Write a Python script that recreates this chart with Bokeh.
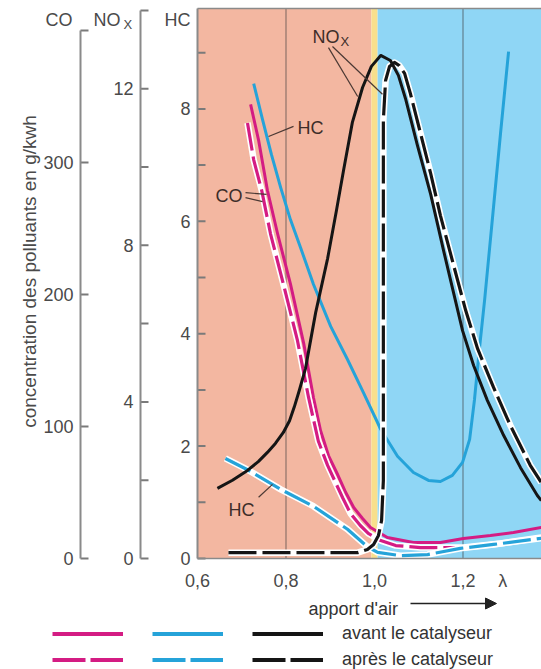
import math
from bokeh.plotting import figure
from bokeh.models import (Range1d, LinearAxis, FixedTicker, BoxAnnotation, Label,
                          Legend, LegendItem, Arrow, NormalHead, CustomJSTickFormatter)
from bokeh.embed import file_html
from bokeh.resources import INLINE

# ---------------- data ----------------
x_tick_values = [0.6, 0.8, 1.0, 1.2, 1.29]
x_tick_labels = ["0,6", "0,8", "1,0", "1,2", "λ"]

hc_ticks, hc_minor = [0, 2, 4, 6, 8], [1, 3, 5, 7, 9]
nox_ticks, nox_minor = [0, 4, 8, 12], [2, 6, 10, 14]
co_ticks, co_minor = [0, 100, 200, 300], [400]
nox_top, co_top = 14, 400

legend_labels = ["avant le catalyseur", "après le catalyseur"]

# zones: rich (salmon), lambda window (yellow), lean (blue)
zone_left = [0.6, 0.993, 1.007]
zone_right = [0.993, 1.007, None]
grid_lines = [0.8, 1.2]

# CO (CO scale)
co_avant_lambda = [0.720, 0.738, 0.758, 0.781, 0.810, 0.840, 0.862, 0.878, 0.896, 0.916, 0.935,
                   0.953, 0.973, 0.991, 1.029, 1.088, 1.149, 1.201, 1.262, 1.314, 1.377]
co_avant = [344, 317, 279, 246, 208, 163, 122, 97, 78, 64, 50,
            38.6, 30.3, 23.5, 15.9, 12.1, 12.1, 15.2, 17.4, 19.7, 23.5]
co_apres_lambda = [0.713, 0.727, 0.745, 0.765, 0.794, 0.826, 0.851, 0.873, 0.894, 0.910, 0.928,
                   0.946, 0.968, 0.986, 1.014, 1.048, 1.104, 1.201, 1.285, 1.377]
co_apres = [330, 302, 279, 246, 208, 165, 122, 89, 70.5, 59, 46,
            34, 25, 19, 13.6, 9.8, 8.3, 8.3, 11.4, 15.9]

# HC (HC scale)
hc_avant_lambda = [0.727, 0.747, 0.767, 0.788, 0.810, 0.833, 0.862, 0.901, 0.939, 0.975, 1.014,
                   1.052, 1.088, 1.122, 1.149, 1.176, 1.199, 1.215, 1.226, 1.237, 1.249, 1.267,
                   1.285, 1.303]
hc_avant = [8.45, 7.81, 7.19, 6.60, 6.03, 5.53, 4.88, 4.13, 3.54, 2.95, 2.30,
            1.82, 1.53, 1.39, 1.37, 1.48, 1.71, 2.12, 2.83, 3.72, 4.61, 6.09,
            7.58, 9.02]
hc_apres_lambda = [0.663, 0.713, 0.788, 0.862, 0.939, 0.984, 1.007, 1.059, 1.120, 1.194, 1.269, 1.377]
hc_apres = [1.78, 1.58, 1.23, 0.93, 0.52, 0.21, 0.11, 0.05, 0.07, 0.18, 0.25, 0.36]

# NOx (NOx scale)
nox_avant_lambda = [0.645, 0.679, 0.713, 0.738, 0.758, 0.776, 0.794, 0.808, 0.819, 0.830, 0.844,
                    0.867, 0.894, 0.914, 0.930, 0.950, 0.973, 0.993, 1.014, 1.036, 1.054,
                    1.070, 1.097, 1.127, 1.156, 1.179, 1.199, 1.224, 1.255, 1.292, 1.330,
                    1.368, 1.377]
nox_avant = [1.79, 2.00, 2.25, 2.48, 2.71, 2.94, 3.22, 3.52, 3.88, 4.29, 4.85,
             6.28, 7.66, 8.89, 9.91, 11.14, 12.03, 12.57, 12.85, 12.72, 12.34,
             11.75, 10.55, 9.30, 7.87, 6.77, 5.82, 4.93, 4.04, 3.14, 2.32,
             1.61, 1.48]
nox_apres_lambda = [0.670, 0.833, 0.962, 0.984, 0.998, 1.009, 1.016, 1.020, 1.020, 1.020, 1.025,
                    1.034, 1.045, 1.056, 1.068, 1.081, 1.104, 1.127, 1.149, 1.179, 1.206,
                    1.233, 1.269, 1.307, 1.352, 1.377]
nox_apres = [0.15, 0.15, 0.15, 0.23, 0.36, 0.59, 0.97, 1.99, 6.59, 11.19, 12.21,
             12.57, 12.67, 12.59, 12.39, 11.88, 10.86, 9.83, 8.76, 7.48, 6.34,
             5.36, 4.37, 3.40, 2.38, 1.94]

# ---------------- styling / layout ----------------
FONT = "Liberation Sans"
MAGENTA, BLUE, BLACK = "#d41c83", "#25a3d9", "#151515"
SALMON, YELLOW, SKY = "#f3b7a1", "#f8df8c", "#8fd6f5"
AXIS_GREY, TICK_GREY, TICK_TXT, NOTE_TXT = "#8a8a8a", "#7a7a7a", "#4a4a4a", "#3d2d29"
DASH = "28 6"

FIG_W, FIG_H = 541, 669
PAGE_X0, PAGE_Y0 = 0, 0              # page position of the canvas
LAM0_PX, ZERO_PY = 197, 558          # page pixel of lambda = 0.6 and of the value 0
PX_PER_LAMBDA = 442.5
PX_PER_HC, PX_PER_NOX, PX_PER_CO = 56.2, 39.15, 1.32
NOX_AXIS_PX, CO_AXIS_PX = 140, 80    # page x of the two extra axes
TOP_PY = 8                           # top of the coloured area
TICK_LEN = 8                         # px


def lam_at(px):
    return 0.6 + (px - LAM0_PX) / PX_PER_LAMBDA


def rng(per_px):
    return Range1d((ZERO_PY - (PAGE_Y0 + FIG_H)) / per_px, (ZERO_PY - PAGE_Y0) / per_px)


def sx(px):
    return px - PAGE_X0


def sy(py):
    return PAGE_Y0 + FIG_H - py


X_START, X_END = lam_at(PAGE_X0), lam_at(PAGE_X0 + FIG_W)
hc_range = rng(PX_PER_HC)
HC_TOP = (ZERO_PY - TOP_PY) / PX_PER_HC

p = figure(width=FIG_W, height=FIG_H, x_range=Range1d(X_START, X_END), y_range=hc_range,
           x_axis_type=None, y_axis_type=None,
           output_backend="svg", toolbar_location=None, title=None, min_border=0)
p.extra_y_ranges = {"nox": rng(PX_PER_NOX), "co": rng(PX_PER_CO)}
p.outline_line_color = None
p.background_fill_color = "white"
p.border_fill_color = "white"

# background zones (from value 0 up to the top of the chart)
for l, r, c in zip(zone_left, zone_right, [SALMON, YELLOW, SKY]):
    p.add_layout(BoxAnnotation(left=l, right=r, bottom=0, top=HC_TOP, fill_color=c, fill_alpha=1.0,
                               line_color=None, level="underlay"))
p.segment(x0=grid_lines, y0=[0] * len(grid_lines), x1=grid_lines, y1=[HC_TOP] * len(grid_lines),
          line_color="#3c3c3c", line_alpha=0.55, line_width=1.2)
# thin top edge of the coloured area
p.segment(x0=[0.6], y0=[HC_TOP], x1=[X_END], y1=[HC_TOP], line_color=AXIS_GREY, line_width=1.5)


def make_y_axis(ticks, minor, bounds, loc, range_name="default"):
    # labelled axis line (labels on the left)
    ax = LinearAxis(y_range_name=range_name, fixed_location=loc, bounds=bounds,
                    ticker=FixedTicker(ticks=ticks, minor_ticks=minor))
    ax.major_tick_in = 0
    ax.major_tick_out = 0
    ax.minor_tick_in = 0
    ax.minor_tick_out = 0
    ax.axis_line_color = AXIS_GREY
    ax.axis_line_width = 2
    ax.major_label_text_font = FONT
    ax.major_label_text_font_size = "18px"
    ax.major_label_text_color = TICK_TXT
    ax.major_label_standoff = 7
    p.add_layout(ax, "left")
    # tick marks on the chart side of the axis line, pointing right
    all_ticks = list(ticks) + list(minor)
    n = len(all_ticks)
    p.segment(x0=[loc] * n, y0=all_ticks, x1=[loc + TICK_LEN / PX_PER_LAMBDA] * n, y1=all_ticks,
              y_range_name=range_name, line_color=TICK_GREY, line_width=2)


make_y_axis(hc_ticks, hc_minor, (0, HC_TOP), 0.6)
make_y_axis(nox_ticks, nox_minor, (0, nox_top), lam_at(NOX_AXIS_PX), "nox")
make_y_axis(co_ticks, co_minor, (0, co_top), lam_at(CO_AXIS_PX), "co")

# x axis at value 0
xa = LinearAxis(fixed_location=0, bounds=(0.6, X_END), ticker=FixedTicker(ticks=x_tick_values))
xa.formatter = CustomJSTickFormatter(args=dict(vals=x_tick_values, labs=x_tick_labels), code="""
    for (let i = 0; i < vals.length; i++) { if (Math.abs(vals[i] - tick) < 1e-6) return labs[i]; }
    return "";
""")
xa.major_tick_in = 0
xa.major_tick_out = 0
xa.minor_tick_line_color = None
xa.axis_line_color = AXIS_GREY
xa.axis_line_width = 1.5
xa.major_label_text_font = FONT
xa.major_label_text_font_size = "18px"
xa.major_label_text_color = TICK_TXT
xa.major_label_standoff = 12
p.add_layout(xa, "below")

# ---------------- curves ----------------
p.line(co_avant_lambda, co_avant, y_range_name="co", line_color=MAGENTA, line_width=3, line_join="round")
p.line(co_apres_lambda, co_apres, y_range_name="co", line_color="white", line_width=6.5, line_join="round")
p.line(co_apres_lambda, co_apres, y_range_name="co", line_color=MAGENTA, line_width=3.2,
       line_dash=DASH, line_join="round")
p.line(hc_avant_lambda, hc_avant, line_color=BLUE, line_width=3, line_join="round")
p.line(hc_apres_lambda, hc_apres, line_color="white", line_width=6.5, line_join="round")
p.line(hc_apres_lambda, hc_apres, line_color=BLUE, line_width=3.2, line_dash=DASH, line_join="round")
p.line(nox_apres_lambda, nox_apres, y_range_name="nox", line_color="white", line_width=6.5, line_join="round")
p.line(nox_apres_lambda, nox_apres, y_range_name="nox", line_color=BLACK, line_width=3.2,
       line_dash=DASH, line_join="round")
p.line(nox_avant_lambda, nox_avant, y_range_name="nox", line_color=BLACK, line_width=3, line_join="round")

# leader lines of the curve notes (lambda, HC scale)
leader_x0 = [0.896, 0.905, 0.817, 0.7085, 0.7085, 0.738]
leader_y0 = [9.09, 9.11, 7.69, 6.51, 6.42, 1.09]
leader_x1 = [0.962, 1.018, 0.7605, 0.756, 0.747, 0.7695]
leader_y1 = [8.22, 8.26, 7.51, 6.48, 6.35, 1.32]
p.segment(leader_x0, leader_y0, leader_x1, leader_y1, line_color="#4a3833", line_width=1.2)


def note(text, px, py, size="18px", align="left", baseline="middle", color=NOTE_TXT, angle=0.0):
    p.add_layout(Label(x=sx(px), y=sy(py), x_units="screen", y_units="screen", text=text,
                       text_font=FONT, text_font_size=size, text_color=color,
                       text_align=align, text_baseline=baseline, angle=angle))


# curve notes
note("NO", 312, 36)
note("X", 340, 41, size="13px")
note("HC", 297, 127)
note("CO", 215, 195)
note("HC", 228, 509)

# axis titles
note("CO", 72, 19, align="right", color=TICK_TXT)
note("NO", 93, 19, color=TICK_TXT)
note("X", 123, 24, size="13px", color=TICK_TXT)
note("HC", 190, 19, align="right", color=TICK_TXT)
note("concentration des polluants en g/kwh", 29, 271, size="19px", align="center",
     color=TICK_TXT, angle=math.pi / 2)
note("apport d'air", 308, 608, baseline="alphabetic", color="#333333")
p.add_layout(Arrow(x_start=sx(410), y_start=sy(603), x_end=sx(496), y_end=sy(603),
                   start_units="screen", end_units="screen", line_color="#222222", line_width=1.6,
                   end=NormalHead(size=11, fill_color="#222222", line_color="#222222")))

# ---------------- legend (one legend per row) ----------------
LEG_ROWS_PY = [633, 659]
ROW_H = 21
NAN = float("nan")
leg_solid = [p.line([NAN], [NAN], line_color=c, line_width=4) for c in (MAGENTA, BLUE, BLACK)]
leg_dash = [p.line([NAN], [NAN], line_color=c, line_width=4, line_dash="33 5")
            for c in (MAGENTA, BLUE, BLACK)]
for rs, row_py, text in zip((leg_solid, leg_dash), LEG_ROWS_PY, legend_labels):
    items = [LegendItem(label=" ", renderers=[rs[0]]),
             LegendItem(label=" ", renderers=[rs[1]]),
             LegendItem(label=text, renderers=[rs[2]])]
    lg = Legend(items=items, location=(sx(52), sy(row_py + ROW_H / 2)), orientation="horizontal",
                glyph_width=71, glyph_height=ROW_H, label_width=0, label_height=ROW_H,
                label_standoff=19, spacing=10, padding=0, margin=0,
                border_line_color=None, background_fill_alpha=0,
                label_text_font=FONT, label_text_font_size="18px", label_text_color="#333333")
    p.add_layout(lg)

open("out.html", "w").write(file_html(p, INLINE, title="Catalyseur"))
